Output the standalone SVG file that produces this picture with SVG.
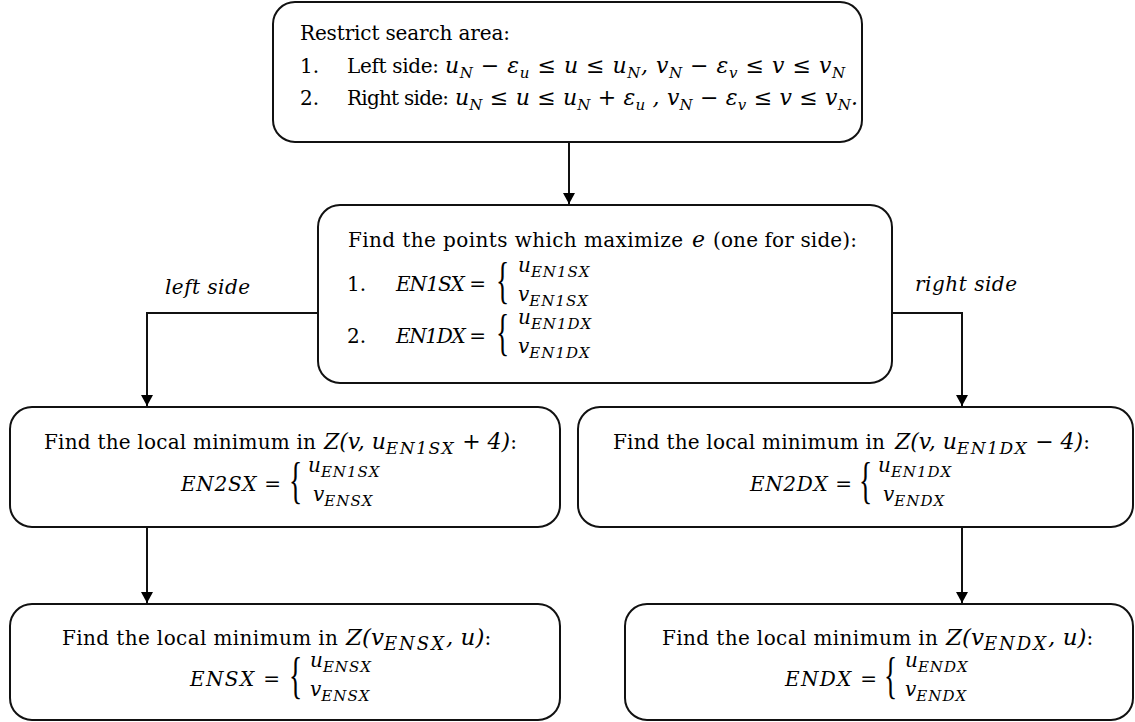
<svg xmlns="http://www.w3.org/2000/svg" width="1135" height="722" viewBox="0 0 1135 722">
<style>
.box{fill:#fff;stroke:#111;stroke-width:2}
.t{font-family:"DejaVu Serif","Liberation Serif",serif;font-size:20px;fill:#000}
.m{font-family:"DejaVu Serif","Liberation Serif",serif;font-style:italic;font-size:20px;fill:#000}
.m2{font-family:"DejaVu Serif","Liberation Serif",serif;font-style:italic;font-size:22px;fill:#000}
.m3{font-family:"DejaVu Serif","Liberation Serif",serif;font-style:italic;font-size:23px;fill:#000}
.s{font-family:"DejaVu Serif","Liberation Serif",serif;font-style:italic;font-size:15px;fill:#000}
.s3{font-size:17px;letter-spacing:1.5px}
.s4{font-size:18px;letter-spacing:2px}
.s2{font-family:"DejaVu Serif","Liberation Serif",serif;font-style:italic;font-size:15px;letter-spacing:1px;fill:#000}
.up{font-style:normal;font-size:20px}
.br{font-family:"Liberation Serif",serif;font-size:50px;fill:#000}
.lab{font-family:"DejaVu Serif","Liberation Serif",serif;font-size:20px;font-style:italic;fill:#000}
.c{fill:none;stroke:#111;stroke-width:2}
</style>
<defs>
<marker id="ah" markerWidth="11" markerHeight="12" refX="11" refY="6" orient="auto" markerUnits="userSpaceOnUse">
<path d="M0,0 L11,6 L0,12 z" fill="#000"/>
</marker>
</defs>
<rect width="1135" height="722" fill="#fff"/>
<g id="connectors">
<line class="c" x1="569" y1="142" x2="569" y2="204" marker-end="url(#ah)"/>
<polyline class="c" points="318,313 147,313 147,406" marker-end="url(#ah)"/>
<polyline class="c" points="892,313 962,313 962,406" marker-end="url(#ah)"/>
<line class="c" x1="147" y1="527" x2="147" y2="603" marker-end="url(#ah)"/>
<line class="c" x1="962" y1="527" x2="962" y2="603" marker-end="url(#ah)"/>
<text class="lab" x="165" y="294" textLength="85">left side</text>
<text class="lab" x="915" y="291" textLength="102">right side</text>
</g>
<g id="restrict">
<rect class="box" x="273" y="2" width="589" height="140" rx="22"/>
<text class="t" x="300" y="40" textLength="210">Restrict search area:</text>
<text class="t" x="300" y="73">1.</text>
<text class="t" x="347" y="73" textLength="92">Left side:</text>
<text class="m2" x="445" y="73" textLength="400">u<tspan class="s" dy="5">N</tspan><tspan dy="-5"> − ε</tspan><tspan class="s" dy="5">u</tspan><tspan dy="-5"> ≤ u ≤ u</tspan><tspan class="s" dy="5">N</tspan><tspan dy="-5">, v</tspan><tspan class="s" dy="5">N</tspan><tspan dy="-5"> − ε</tspan><tspan class="s" dy="5">v</tspan><tspan dy="-5"> ≤ v ≤ v</tspan><tspan class="s" dy="5">N</tspan></text>
<text class="t" x="300" y="105">2.</text>
<text class="t" x="347" y="105" textLength="102">Right side:</text>
<text class="m2" x="455" y="105" textLength="403">u<tspan class="s" dy="5">N</tspan><tspan dy="-5"> ≤ u ≤ u</tspan><tspan class="s" dy="5">N</tspan><tspan dy="-5"> + ε</tspan><tspan class="s" dy="5">u</tspan><tspan dy="-5"> , v</tspan><tspan class="s" dy="5">N</tspan><tspan dy="-5"> − ε</tspan><tspan class="s" dy="5">v</tspan><tspan dy="-5"> ≤ v ≤ v</tspan><tspan class="s" dy="5">N</tspan><tspan dy="-5">.</tspan></text>
</g>
<g id="maximize">
<rect class="box" x="318" y="205" width="574" height="178" rx="22"/>
<text class="t" x="348" y="247" textLength="335">Find the points which maximize</text>
<text class="m2" x="692" y="247">e</text>
<text class="t" x="713" y="247" textLength="144">(one for side):</text>
<text class="t" x="347" y="291">1.</text>
<text class="m" x="396" y="291" textLength="90">EN1SX =</text>
<text class="br" transform="translate(496,297) scale(0.55,1)">{</text>
<text class="m" x="518" y="272">u<tspan class="s2" dy="5">EN1SX</tspan></text>
<text class="m" x="518" y="301">v<tspan class="s2" dy="5">EN1SX</tspan></text>
<text class="t" x="347" y="343">2.</text>
<text class="m" x="396" y="343" textLength="90">EN1DX =</text>
<text class="br" transform="translate(496,349) scale(0.55,1)">{</text>
<text class="m" x="518" y="324">u<tspan class="s2" dy="5">EN1DX</tspan></text>
<text class="m" x="518" y="353">v<tspan class="s2" dy="5">EN1DX</tspan></text>
</g>
<g id="en2sx">
<rect class="box" x="10" y="407" width="550" height="120" rx="22"/>
<text class="t" x="44" y="449" textLength="272">Find the local minimum in</text>
<text class="m2" x="324" y="449">Z(v, u<tspan class="s3" dy="5">EN1SX</tspan><tspan dy="-5"> + 4)</tspan><tspan class="up">:</tspan></text>
<text class="m" x="181" y="491" textLength="100">EN2SX =</text>
<text class="br" transform="translate(289,497) scale(0.55,1)">{</text>
<text class="m" x="308" y="472">u<tspan class="s2" dy="5">EN1SX</tspan></text>
<text class="m" x="313" y="501">v<tspan class="s2" dy="5">ENSX</tspan></text>
</g>
<g id="en2dx">
<rect class="box" x="578" y="407" width="555" height="120" rx="22"/>
<text class="t" x="613" y="449" textLength="272">Find the local minimum in</text>
<text class="m2" x="895" y="449">Z(v, u<tspan class="s3" dy="5">EN1DX</tspan><tspan dy="-5"> − 4)</tspan><tspan class="up">:</tspan></text>
<text class="m" x="750" y="491" textLength="102">EN2DX =</text>
<text class="br" transform="translate(859,497) scale(0.55,1)">{</text>
<text class="m" x="878" y="472">u<tspan class="s2" dy="5">EN1DX</tspan></text>
<text class="m" x="883" y="501">v<tspan class="s2" dy="5">ENDX</tspan></text>
</g>
<g id="ensx">
<rect class="box" x="10" y="604" width="550" height="116" rx="22"/>
<text class="t" x="62" y="645" textLength="276">Find the local minimum in</text>
<text class="m3" x="346" y="645">Z(v<tspan class="s4" dy="5">ENSX</tspan><tspan dy="-5">, u)</tspan><tspan class="up">:</tspan></text>
<text class="m" x="190" y="686" textLength="90">ENSX =</text>
<text class="br" transform="translate(289,692) scale(0.55,1)">{</text>
<text class="m" x="310" y="667">u<tspan class="s2" dy="5">ENSX</tspan></text>
<text class="m" x="310" y="696">v<tspan class="s2" dy="5">ENSX</tspan></text>
</g>
<g id="endx">
<rect class="box" x="625" y="604" width="508" height="116" rx="22"/>
<text class="t" x="662" y="645" textLength="276">Find the local minimum in</text>
<text class="m3" x="946" y="645">Z(v<tspan class="s4" dy="5">ENDX</tspan><tspan dy="-5">, u)</tspan><tspan class="up">:</tspan></text>
<text class="m" x="785" y="686" textLength="92">ENDX =</text>
<text class="br" transform="translate(884,692) scale(0.55,1)">{</text>
<text class="m" x="905" y="667">u<tspan class="s2" dy="5">ENDX</tspan></text>
<text class="m" x="905" y="696">v<tspan class="s2" dy="5">ENDX</tspan></text>
</g>
</svg>
